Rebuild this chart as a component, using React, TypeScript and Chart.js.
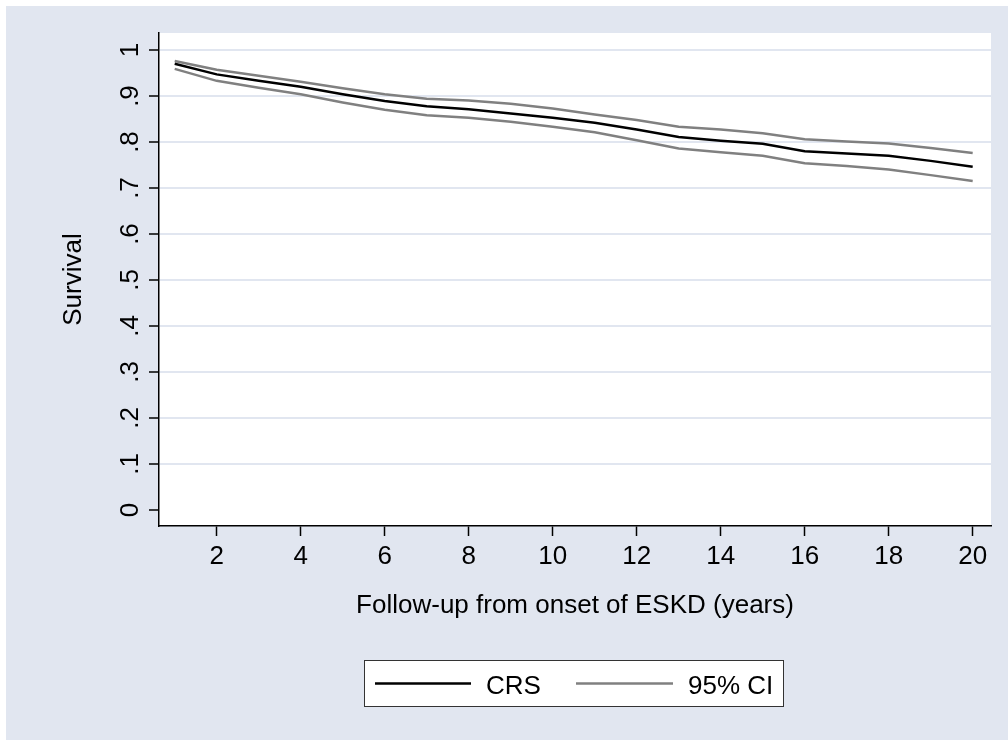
import React, { useEffect, useRef } from "react";
import { Chart, registerables } from "chart.js";

Chart.register(...registerables);

// Follow-up time (years) and survival estimates
const years = [1, 2, 3, 4, 5, 6, 7, 8, 9, 10, 11, 12, 13, 14, 15, 16, 17, 18, 19, 20];
const crs = [0.970, 0.947, 0.933, 0.920, 0.904, 0.889, 0.878, 0.871, 0.862, 0.853, 0.842, 0.827, 0.811, 0.803, 0.796, 0.780, 0.775, 0.770, 0.759, 0.746];
const ciUpper = [0.976, 0.957, 0.944, 0.931, 0.917, 0.904, 0.894, 0.890, 0.883, 0.873, 0.860, 0.848, 0.833, 0.827, 0.819, 0.806, 0.801, 0.797, 0.787, 0.776];
const ciLower = [0.959, 0.933, 0.918, 0.904, 0.886, 0.870, 0.858, 0.853, 0.844, 0.833, 0.821, 0.804, 0.786, 0.778, 0.770, 0.754, 0.748, 0.740, 0.728, 0.715];

const xTickValues = [2, 4, 6, 8, 10, 12, 14, 16, 18, 20];
const yTickValues = [0, 0.1, 0.2, 0.3, 0.4, 0.5, 0.6, 0.7, 0.8, 0.9, 1];
const yTickLabels = ["0", ".1", ".2", ".3", ".4", ".5", ".6", ".7", ".8", ".9", "1"];

const legendLabels = ["CRS", "95% CI"];
const xTitle = "Follow-up from onset of ESKD (years)";
const yTitle = "Survival";

const W = 1008;
const H = 740;
const FONT = "Arial, 'Liberation Sans', Helvetica, sans-serif";
const FONT_SIZE = 26;
const REGION_BG = "#e1e6f0";
const GRID = "#e1e6f0";
const CRS_COLOR = "#000000";
const CI_COLOR = "#808080";
const LINE_WIDTH = 2.5;

const backgroundPlugin = {
  id: "stataBackground",
  beforeDraw(chart: any) {
    const { ctx, chartArea } = chart;
    ctx.save();
    ctx.fillStyle = "#ffffff";
    ctx.fillRect(0, 0, W, H);
    ctx.fillStyle = REGION_BG;
    ctx.fillRect(6, 6, W - 6, H - 6);
    ctx.fillStyle = "#ffffff";
    ctx.fillRect(chartArea.left, chartArea.top, chartArea.right - chartArea.left, chartArea.bottom - chartArea.top);
    ctx.restore();
  },
};

// Rotated y tick labels and the boxed legend below the axis title
const annotationsPlugin = {
  id: "stataAnnotations",
  afterDraw(chart: any) {
    const { ctx } = chart;
    const y = chart.scales.y;
    ctx.save();
    ctx.font = `${FONT_SIZE}px ${FONT}`;
    ctx.fillStyle = "#000";
    ctx.textAlign = "center";
    ctx.textBaseline = "alphabetic";
    y.ticks.forEach((t: any, i: number) => {
      const py = y.getPixelForValue(t.value);
      ctx.save();
      ctx.translate(137.5, py);
      ctx.rotate(-Math.PI / 2);
      ctx.fillText(yTickLabels[i], 0, 0);
      ctx.restore();
    });

    // legend
    const box = { x: 364, y: 660, w: 420, h: 47 };
    ctx.fillStyle = "#ffffff";
    ctx.fillRect(box.x, box.y, box.w, box.h);
    ctx.strokeStyle = "#333333";
    ctx.lineWidth = 1;
    ctx.strokeRect(box.x + 0.5, box.y + 0.5, box.w - 1, box.h - 1);

    const entries = [
      { label: legendLabels[0], color: chart.data.datasets[0].borderColor, x0: 375, x1: 471, tx: 486 },
      { label: legendLabels[1], color: chart.data.datasets[1].borderColor, x0: 576, x1: 673, tx: 688 },
    ];
    const ly = 683.5;
    entries.forEach((e) => {
      ctx.strokeStyle = e.color;
      ctx.lineWidth = LINE_WIDTH;
      ctx.beginPath();
      ctx.moveTo(e.x0, ly);
      ctx.lineTo(e.x1, ly);
      ctx.stroke();
      ctx.fillStyle = "#000";
      ctx.textAlign = "left";
      ctx.textBaseline = "alphabetic";
      ctx.fillText(e.label, e.tx, 694);
    });
    ctx.restore();
  },
};

export default function App() {
  const canvasRef = useRef<HTMLCanvasElement | null>(null);

  useEffect(() => {
    document.body.style.margin = "0";
    const canvas = canvasRef.current;
    if (!canvas) return;

    const toPoints = (vals: number[]) => years.map((x, i) => ({ x, y: vals[i] }));

    const chart = new Chart(canvas, {
      type: "line",
      data: {
        datasets: [
          {
            label: legendLabels[0],
            data: toPoints(crs),
            borderColor: CRS_COLOR,
            borderWidth: LINE_WIDTH,
            pointRadius: 0,
            tension: 0,
            order: 0,
          },
          {
            label: legendLabels[1],
            data: toPoints(ciUpper),
            borderColor: CI_COLOR,
            borderWidth: LINE_WIDTH,
            pointRadius: 0,
            tension: 0,
            order: 1,
          },
          {
            label: legendLabels[1] + " lower",
            data: toPoints(ciLower),
            borderColor: CI_COLOR,
            borderWidth: LINE_WIDTH,
            pointRadius: 0,
            tension: 0,
            order: 1,
          },
        ],
      },
      options: {
        responsive: false,
        animation: false,
        devicePixelRatio: 1,
        layout: { padding: { left: 0, top: 33, right: 17, bottom: 114 } },
        plugins: {
          legend: { display: false },
          tooltip: { enabled: false },
        },
        scales: {
          x: {
            type: "linear",
            min: 0.626,
            max: 20.436,
            afterBuildTicks: (s: any) => {
              s.ticks = xTickValues.map((v) => ({ value: v }));
            },
            afterFit: (s: any) => {
              s.height = 100;
            },
            ticks: {
              autoSkip: false,
              maxRotation: 0,
              minRotation: 0,
              padding: 5,
              color: "#000",
              font: { family: FONT, size: FONT_SIZE },
              callback: (v: any) => String(v),
            },
            grid: {
              drawOnChartArea: false,
              drawTicks: true,
              tickLength: 10,
              tickColor: "#000",
              tickWidth: 1.5,
            },
            border: { display: true, color: "#000", width: 1.5 },
            title: {
              display: true,
              text: xTitle,
              color: "#000",
              font: { family: FONT, size: FONT_SIZE },
              padding: { top: 0, bottom: 5 },
            },
          },
          y: {
            type: "linear",
            min: -0.0348,
            max: 1.037,
            afterBuildTicks: (s: any) => {
              s.ticks = yTickValues.map((v) => ({ value: v }));
            },
            afterFit: (s: any) => {
              s.width = 159;
            },
            ticks: { display: false },
            grid: {
              drawOnChartArea: true,
              color: (c: any) => (c.tick && c.tick.value === 0 ? "rgba(0,0,0,0)" : GRID),
              lineWidth: 2,
              drawTicks: true,
              tickLength: 10,
              tickColor: "#000",
              tickWidth: 1.5,
            },
            border: { display: true, color: "#000", width: 1.5 },
            title: {
              display: true,
              text: yTitle,
              color: "#000",
              font: { family: FONT, size: FONT_SIZE },
              padding: { top: 58, bottom: 0 },
            },
          },
        },
      },
      plugins: [backgroundPlugin, annotationsPlugin],
    });

    return () => chart.destroy();
  }, []);

  return <canvas ref={canvasRef} width={W} height={H} style={{ display: "block" }} />;
}
